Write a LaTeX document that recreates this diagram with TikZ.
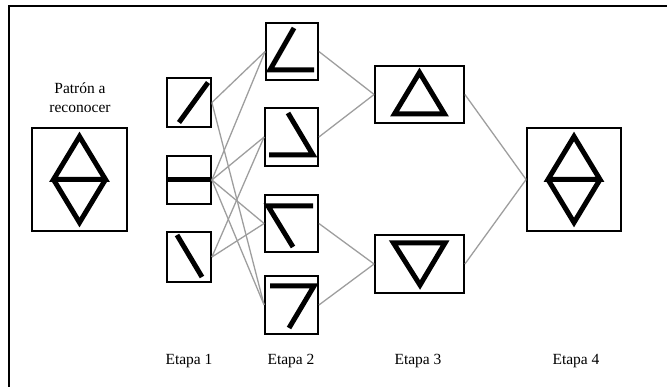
\documentclass[tikz,border=0pt]{standalone}
\usepackage{fontspec}
\setmainfont{Liberation Serif}
\tikzset{
  unit/.style={draw=black, line width=1.8pt, minimum width=#1, inner sep=0pt},
  glyph/.style={line width=5pt, line join=miter, line cap=butt},
  link/.style={draw=black!38, line width=1.3pt},
  caption/.style={font=\fontsize{15.5}{19}\selectfont, align=center, inner sep=0pt}
}
\begin{document}
\begin{tikzpicture}[x=1pt,y=-1pt]
  \useasboundingbox (0,0) rectangle (667,387);

  % open frame (top and left edges)
  \coordinate (fl) at (9,387);
  \coordinate (fc) at (9,6);
  \coordinate (fr) at (667,6);
  \draw[line width=2pt] (fl) -- (fc) -- (fr);

  % pattern to recognise
  \node[unit=95pt, minimum height=103pt] (in) at (79.5,179.5) {};
  \node[caption] (intitle) at (80,98) {Patrón a\\reconocer};

  % stage 1
  \node[unit=44pt, minimum height=49pt] (s1a) at (189,102.5) {};
  \node[unit=44pt, minimum height=48pt] (s1b) at (189,180) {};
  \node[unit=44pt, minimum height=50pt] (s1c) at (189,257) {};

  % stage 2
  \node[unit=52pt, minimum height=57pt] (s2a) at (292,51.5) {};
  \node[unit=53pt, minimum height=58pt] (s2b) at (291.5,137) {};
  \node[unit=53pt, minimum height=57pt] (s2c) at (291.5,223.5) {};
  \node[unit=53pt, minimum height=58pt] (s2d) at (291.5,305) {};

  % stage 3
  \node[unit=89pt, minimum height=57pt] (s3a) at (419.5,94.5) {};
  \node[unit=89pt, minimum height=58pt] (s3b) at (419.5,264) {};

  % stage 4
  \node[unit=94pt, minimum height=103pt] (s4) at (574,179.5) {};

  % connections
  \foreach \a/\b in {s1a/s2a, s1a/s2d, s1b/s2a, s1b/s2b, s1b/s2c, s1b/s2d,
                     s1c/s2b, s1c/s2c, s2a/s3a, s2b/s3a, s2c/s3b, s2d/s3b,
                     s3a/s4, s3b/s4}
    \draw[link] (\a.east) -- (\b.west);

  % glyphs
  \foreach \n in {in, s4}
    \draw[glyph] ([shift={(0,-43)}]\n.center) -- ([shift={(-26,0)}]\n.center)
      -- ([shift={(26,0)}]\n.center) -- cycle
      ([shift={(-26,0)}]\n.center) -- ([shift={(0,43)}]\n.center)
      -- ([shift={(26,0)}]\n.center);

  \draw[glyph] ([shift={(-10,20)}]s1a.center) -- ([shift={(19,-20)}]s1a.center);
  \draw[glyph] ([shift={(-22,0)}]s1b.center) -- ([shift={(22,0)}]s1b.center);
  \draw[glyph] ([shift={(-12,-22)}]s1c.center) -- ([shift={(13,20)}]s1c.center);

  \draw[glyph] ([shift={(2,-23.5)}]s2a.center) -- ([shift={(-22,18.5)}]s2a.center)
    -- ([shift={(22,18.5)}]s2a.center);
  \draw[glyph] ([shift={(-3.5,-24)}]s2b.center) -- ([shift={(21.5,18)}]s2b.center)
    -- ([shift={(-22.5,18)}]s2b.center);
  \draw[glyph] ([shift={(1.5,23.5)}]s2c.center) -- ([shift={(-23.5,-17.5)}]s2c.center)
    -- ([shift={(21.5,-17.5)}]s2c.center);
  \draw[glyph] ([shift={(-21.5,-19)}]s2d.center) -- ([shift={(22.5,-19)}]s2d.center)
    -- ([shift={(-2.5,23)}]s2d.center);

  \draw[glyph] ([shift={(0,-22)}]s3a.center) -- ([shift={(-25,19.5)}]s3a.center)
    -- ([shift={(25,19.5)}]s3a.center) -- cycle;
  \draw[glyph] ([shift={(-26,-21)}]s3b.center) -- ([shift={(25.5,-21)}]s3b.center)
    -- ([shift={(0.5,21)}]s3b.center) -- cycle;

  % stage labels
  \node[caption] (e1) at (189,361) {Etapa 1};
  \node[caption] (e2) at (291,361) {Etapa 2};
  \node[caption] (e3) at (418,361) {Etapa 3};
  \node[caption] (e4) at (576,361) {Etapa 4};
\end{tikzpicture}
\end{document}
